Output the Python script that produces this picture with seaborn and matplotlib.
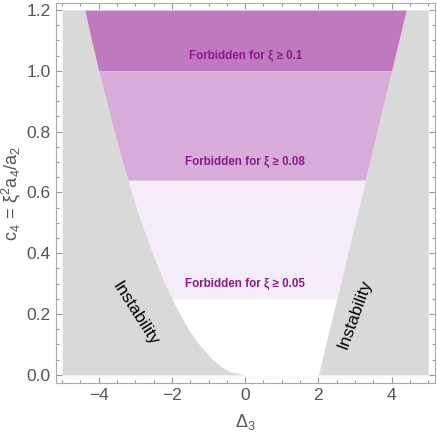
import numpy as np
import seaborn as sns
import matplotlib.pyplot as plt
from matplotlib.ticker import MultipleLocator

# left stability boundary (c4 level, Delta_3 value)
c_levels = [0.0, 0.01, 0.025, 0.05, 0.1, 0.15, 0.2, 0.25, 0.3, 0.4, 0.5,
            0.6, 0.7, 0.8, 0.9, 1.0, 1.1, 1.2]
left_delta = [0.0, -0.4, -0.63, -0.89, -1.26, -1.55, -1.79, -2.0, -2.19, -2.53,
              -2.83, -3.10, -3.35, -3.58, -3.79, -4.0, -4.20, -4.38]
# right boundary is a straight line
right_c = [0.0, 1.2]
right_delta = [2.0, 4.4]

# forbidden bands: lower c4 limit, label
band_lows = [0.25, 0.64, 1.0]
band_labels = ["Forbidden for \u03be \u2265 0.05",
               "Forbidden for \u03be \u2265 0.08",
               "Forbidden for \u03be \u2265 0.1"]
band_colors = ["#f4ecf6", "#d8acd8", "#bf7abf"]
label_c = [0.30, 0.70, 1.05]

sns.set_theme(style="ticks")
plt.rcParams['font.family'] = ['Liberation Sans', 'DejaVu Sans']
plt.rcParams['mathtext.fontset'] = 'custom'
plt.rcParams['mathtext.rm'] = 'Liberation Sans'
plt.rcParams['mathtext.it'] = 'Liberation Sans:italic'

fig, ax = plt.subplots(figsize=(4.37, 4.33), dpi=100)
fig.subplots_adjust(left=0.128, right=0.995, bottom=0.116, top=0.993)

c = np.array(c_levels)
dl = np.array(left_delta)
gray = "#d9d9d9"

# instability regions
ax.fill_betweenx(c, -5, dl, color=gray, lw=0)
ax.fill_betweenx(right_c, right_delta, 5, color=gray, lw=0)

# forbidden bands between the two boundaries
top = 1.2
for lo, col in reversed(list(zip(band_lows, band_colors))):
    ys = np.concatenate([[lo], c[(c > lo) & (c < top)], [top]])
    xl = np.interp(ys, c, dl)
    xr = np.interp(ys, right_c, right_delta)
    ax.fill_betweenx(ys, xl, xr, color=col, lw=0)
    top = lo

for txt, yc in zip(band_labels, label_c):
    ax.text(0, yc, txt, ha="center", va="center", fontsize=8.4,
            fontweight="bold", color="#8a1b8a")

ax.text(-3.0, 0.202, "Instability", rotation=-57.5, ha="center", va="center",
        fontsize=12.5, color="black", rotation_mode="anchor")
ax.text(3.0, 0.20, "Instability", rotation=70, ha="center", va="center",
        fontsize=12.5, color="black", rotation_mode="anchor")

ax.set_xlim(-5.17, 5.18)
ax.set_ylim(-0.026, 1.223)
ax.xaxis.set_minor_locator(MultipleLocator(0.5))
ax.yaxis.set_minor_locator(MultipleLocator(0.05))
ax.set_xticks([-4, -2, 0, 2, 4])
ax.set_xticklabels(["\u22124", "\u22122", "0", "2", "4"])
ax.set_yticks([0, 0.2, 0.4, 0.6, 0.8, 1.0, 1.2])
ax.set_yticklabels(["0.0", "0.2", "0.4", "0.6", "0.8", "1.0", "1.2"])

ax.tick_params(which="both", direction="in", top=True, right=True,
               color="#999999", labelcolor="#555555", labelsize=12.5, width=0.8)
ax.tick_params(which="major", length=4, pad=4)
ax.tick_params(which="minor", length=2.2)
for s in ax.spines.values():
    s.set_color("#aaaaaa")
    s.set_linewidth(0.8)

ax.set_xlabel("$\\Delta_3$", fontsize=13, color="#555555", labelpad=6)
ax.set_ylabel("$\\mathrm{c_4\\,=\\,\\xi^2 a_4/a_2}$", fontsize=13,
              color="#555555", labelpad=2)

fig.savefig("out.png", dpi=100)
